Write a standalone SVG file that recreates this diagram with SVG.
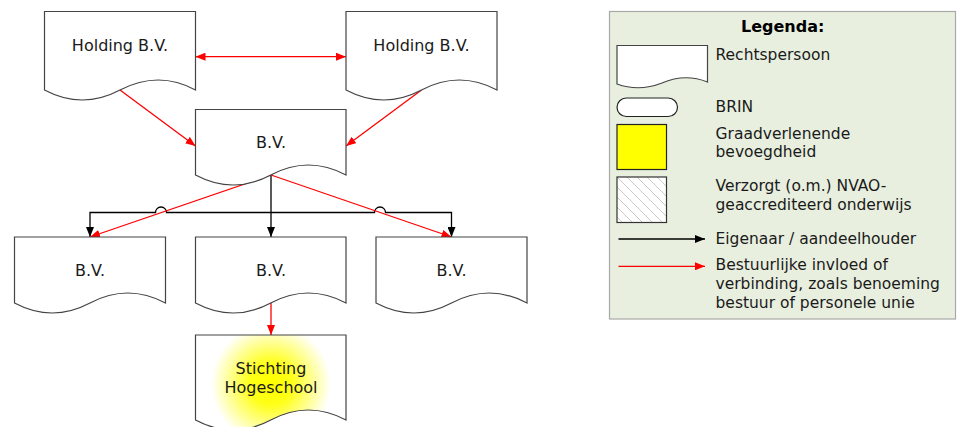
<svg xmlns="http://www.w3.org/2000/svg" width="957" height="427" viewBox="0 0 957 427">
<style>
.doc{fill:#ffffff;stroke:#444444;stroke-width:1.2}
.t{font-family:"DejaVu Sans",Verdana,sans-serif;font-size:16px;fill:#1a1a1a}
.c{text-anchor:middle}
.lt{font-family:"DejaVu Sans",Verdana,sans-serif;font-size:15.5px;fill:#1a1a1a}
.red{fill:none;stroke:#ff0000;stroke-width:1.3}
.blk{fill:none;stroke:#000000;stroke-width:1.3}
</style>
<defs>
<marker id="ar" viewBox="0 0 10 8" refX="10" refY="4" markerWidth="10" markerHeight="8" markerUnits="userSpaceOnUse" orient="auto-start-reverse"><path d="M0,0 L10,4 L0,8 z" fill="#ff0000"/></marker>
<marker id="ab" viewBox="0 0 10 8" refX="10" refY="4" markerWidth="10" markerHeight="8" markerUnits="userSpaceOnUse" orient="auto-start-reverse"><path d="M0,0 L10,4 L0,8 z" fill="#000000"/></marker>
<radialGradient id="glow" gradientUnits="userSpaceOnUse" cx="271" cy="384" r="60">
<stop offset="0" stop-color="#ffff00"/>
<stop offset="0.35" stop-color="#ffff18"/>
<stop offset="1" stop-color="#ffffff"/>
</radialGradient>
<pattern id="hatch" patternUnits="userSpaceOnUse" width="10" height="10">
<rect width="10" height="10" fill="#ffffff"/>
<path d="M0,0 L10,10 M-1,9 L1,11 M9,-1 L11,1" stroke="#c4c4c4" stroke-width="0.9"/>
</pattern>
</defs>

<g id="connectors">
<path class="red" d="M195.5,56.7 H346" marker-start="url(#ar)" marker-end="url(#ar)"/>
<path class="red" d="M120,90 L195.5,146" marker-end="url(#ar)"/>
<path class="red" d="M421.5,90 L346,146" marker-end="url(#ar)"/>
<path class="blk" d="M271,175 V237" marker-end="url(#ab)"/>
<path class="blk" d="M90,237 V212.5 H155.5 A5.5,5.5 0 0 1 166.5,212.5 H374.5 A5.5,5.5 0 0 1 385.5,212.5 H451.5 V237" marker-start="url(#ab)" marker-end="url(#ab)"/>
<path class="red" d="M271,175 L90,237" marker-end="url(#ar)"/>
<path class="red" d="M271,175 L451.5,237" marker-end="url(#ar)"/>
<path class="red" d="M271,303 V335" marker-end="url(#ar)"/>
</g>

<g id="holding1">
<path class="doc" d="M44.5,11.5 H195.5 V90 Q158.75,70 120,90 Q82.25,110 44.5,90 Z"/>
<text class="t c" x="120" y="50.5">Holding B.V.</text>
</g>
<g id="holding2">
<path class="doc" d="M346,11.5 H497 V90 Q459.25,70 421.5,90 Q383.75,110 346,90 Z"/>
<text class="t c" x="421.5" y="50.5">Holding B.V.</text>
</g>
<g id="bv-mid">
<path class="doc" d="M195.5,109.5 H346 V175 Q308.4,155 270.75,175 Q233.1,195 195.5,175 Z"/>
<text class="t c" x="271" y="148.3">B.V.</text>
</g>
<g id="bv-left">
<path class="doc" d="M14.5,237 H165.5 V303 Q127.75,283 90,303 Q52.25,323 14.5,303 Z"/>
<text class="t c" x="90" y="275.7">B.V.</text>
</g>
<g id="bv-center">
<path class="doc" d="M195.5,237 H346 V303 Q308.4,283 270.75,303 Q233.1,323 195.5,303 Z"/>
<text class="t c" x="271" y="275.7">B.V.</text>
</g>
<g id="bv-right">
<path class="doc" d="M376,237 H527 V303 Q489.25,283 451.5,303 Q413.75,323 376,303 Z"/>
<text class="t c" x="451.5" y="275.7">B.V.</text>
</g>
<g id="stichting">
<path class="doc" d="M195.5,335 H346 V420 Q308.4,400 270.75,420 Q233.1,440 195.5,420 Z" style="fill:url(#glow)"/>
<text class="t c" x="271" y="374">Stichting</text>
<text class="t c" x="271" y="393">Hogeschool</text>
</g>

<g id="legend">
<rect x="609.5" y="11.5" width="346" height="307.5" fill="#e8efdf" stroke="#a8a8a8" stroke-width="1.2"/>
<text x="782.7" y="31.5" text-anchor="middle" style="font-family:'DejaVu Sans',Verdana,sans-serif;font-size:16px;font-weight:bold;fill:#000">Legenda:</text>
<path class="doc" d="M617,45.5 H707.5 V82 Q685,73 662,83 Q639,92 617,84 Z"/>
<text class="lt" x="715.5" y="59.5">Rechtspersoon</text>
<rect x="617" y="98" width="60.5" height="18.5" rx="9.25" ry="9.25" fill="#ffffff" stroke="#222" stroke-width="1.2"/>
<text class="lt" x="715.5" y="111.5">BRIN</text>
<rect x="617" y="124.5" width="49.5" height="45" fill="#ffff00" stroke="#222" stroke-width="1.2"/>
<text class="lt" x="715.5" y="138.5">Graadverlenende</text>
<text class="lt" x="715.5" y="157">bevoegdheid</text>
<rect x="617" y="177" width="49.5" height="45.5" fill="url(#hatch)" stroke="#333" stroke-width="1.2"/>
<text class="lt" x="715.5" y="190.5">Verzorgt (o.m.) NVAO-</text>
<text class="lt" x="715.5" y="209.5">geaccrediteerd onderwijs</text>
<path class="blk" d="M618.5,239 H705" marker-end="url(#ab)"/>
<text class="lt" x="715.5" y="244">Eigenaar / aandeelhouder</text>
<path class="red" d="M618.5,266.3 H705" marker-end="url(#ar)"/>
<text class="lt" x="715.5" y="270">Bestuurlijke invloed of</text>
<text class="lt" x="715.5" y="289">verbinding, zoals benoeming</text>
<text class="lt" x="715.5" y="308">bestuur of personele unie</text>
</g>
</svg>
